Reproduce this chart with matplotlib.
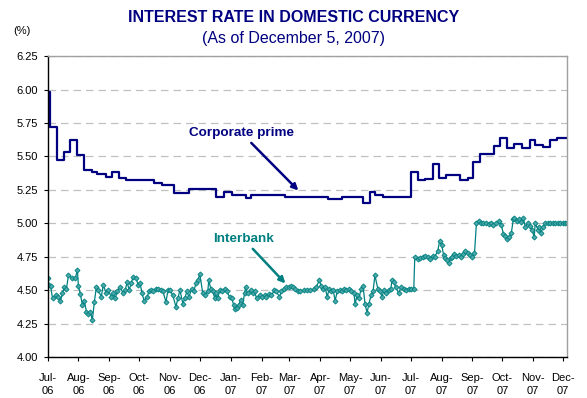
import numpy as np
import pandas as pd
import matplotlib
matplotlib.use("Agg")
import matplotlib.pyplot as plt
import matplotlib.dates as mdates
from matplotlib.ticker import FormatStrFormatter

plt.rcParams['font.family'] = ['Liberation Sans', 'DejaVu Sans']

start = pd.Timestamp("2006-07-01")
end = pd.Timestamp("2007-12-05")

# corporate prime: day (counted from 1 Jul 2006) on which the rate changes, new rate
prime_day = [0, 2, 10, 17, 23, 30, 37, 45, 50, 59, 65, 72, 79, 107, 115, 127,
             142, 169, 177, 185, 199, 204, 239, 282, 296, 317, 324, 329, 337,
             365, 372, 379, 387, 393, 400, 414, 422, 428, 435, 449, 455, 462,
             469, 477, 485, 490, 498, 505, 512, 522]
prime_rate = [5.98, 5.72, 5.47, 5.53, 5.62, 5.51, 5.40, 5.385, 5.37, 5.345,
              5.38, 5.335, 5.32, 5.30, 5.285, 5.23, 5.255, 5.20, 5.235, 5.21,
              5.19, 5.21, 5.195, 5.18, 5.20, 5.155, 5.235, 5.21, 5.20, 5.38,
              5.32, 5.33, 5.44, 5.34, 5.36, 5.32, 5.335, 5.46, 5.52, 5.58,
              5.64, 5.56, 5.59, 5.56, 5.62, 5.585, 5.57, 5.62, 5.635, 5.635]

# interbank call loan rate, days counted from 1 Jul 2006
ib_day = [0, 1, 3, 5, 8, 11, 13, 15, 17, 19, 21, 25, 28, 30, 31, 33, 35, 37,
          39, 41, 43, 45, 47, 49, 51, 54, 56, 59, 61, 64, 66, 68, 70, 73, 76,
          78, 80, 82, 84, 86, 89, 91, 93, 95, 97, 100, 102, 104, 106, 109,
          111, 114, 116, 119, 121, 123, 126, 129, 131, 133, 136, 138, 140,
          142, 145, 147, 149, 151, 153, 156, 158, 161, 162, 164, 166, 168,
          169, 171, 173, 175, 178, 180, 183, 185, 187, 188, 190, 192, 194,
          196, 198, 199, 201, 204, 206, 208, 210, 213, 215, 218, 220, 223,
          225, 228, 230, 233, 235, 238, 240, 243, 245, 247, 249, 252, 254,
          258, 261, 264, 268, 270, 273, 275, 277, 279, 281, 283, 285, 287,
          289, 291, 294, 296, 298, 300, 303, 305, 308, 309, 311, 313, 315,
          317, 319, 321, 323, 325, 327, 329, 332, 334, 336, 338, 340, 343,
          345, 346, 348, 350, 353, 355, 358, 360, 363, 365, 368, 369, 372,
          374, 377, 379, 382, 384, 387, 389, 392, 394, 396, 398, 399, 401,
          403, 405, 406, 408, 410, 413, 415, 417, 419, 422, 424, 427, 429,
          431, 434, 436, 438, 441, 444, 446, 448, 451, 454, 456, 458, 460,
          462, 464, 466, 468, 469, 472, 474, 476, 478, 480, 483, 485, 487,
          489, 490, 493, 494, 496, 498, 500, 503, 505, 508, 510, 513, 515,
          518, 520, 522]
ib_rate = [4.59, 4.54, 4.53, 4.44, 4.46, 4.45, 4.42, 4.475, 4.525, 4.51, 4.61,
           4.59, 4.59, 4.65, 4.53, 4.47, 4.39, 4.42, 4.34, 4.32, 4.34, 4.275,
           4.41, 4.52, 4.50, 4.45, 4.54, 4.475, 4.50, 4.45, 4.475, 4.44, 4.49,
           4.525, 4.475, 4.50, 4.56, 4.50, 4.55, 4.60, 4.59, 4.54, 4.55, 4.475,
           4.42, 4.45, 4.49, 4.50, 4.49, 4.51, 4.51, 4.50, 4.49, 4.41, 4.50,
           4.50, 4.46, 4.375, 4.44, 4.50, 4.40, 4.44, 4.49, 4.45, 4.51, 4.49,
           4.55, 4.575, 4.62, 4.475, 4.46, 4.49, 4.575, 4.51, 4.49, 4.44,
           4.475, 4.44, 4.50, 4.49, 4.51, 4.49, 4.45, 4.44, 4.39, 4.36, 4.37,
           4.39, 4.425, 4.39, 4.475, 4.525, 4.475, 4.50, 4.475, 4.49, 4.44,
           4.46, 4.45, 4.46, 4.45, 4.47, 4.46, 4.50, 4.49, 4.45, 4.49, 4.51,
           4.52, 4.525, 4.53, 4.52, 4.51, 4.49, 4.49, 4.50, 4.50, 4.50, 4.505,
           4.52, 4.575, 4.53, 4.505, 4.52, 4.45, 4.51, 4.49, 4.50, 4.42, 4.49,
           4.50, 4.49, 4.51, 4.50, 4.505, 4.49, 4.475, 4.395, 4.46, 4.44, 4.51,
           4.53, 4.40, 4.33, 4.40, 4.46, 4.49, 4.61, 4.505, 4.495, 4.45, 4.50,
           4.475, 4.50, 4.51, 4.575, 4.56, 4.52, 4.475, 4.525, 4.51, 4.50,
           4.51, 4.505, 4.51, 4.745, 4.73, 4.74, 4.75, 4.755, 4.745, 4.73,
           4.755, 4.75, 4.79, 4.87, 4.84, 4.76, 4.74, 4.725, 4.70, 4.74, 4.75,
           4.77, 4.755, 4.76, 4.75, 4.77, 4.79, 4.78, 4.76, 4.745, 4.775,
           5.005, 5.02, 5.005, 5.00, 5.005, 4.995, 5.00, 4.99, 5.00, 5.02,
           4.99, 4.92, 4.905, 4.88, 4.90, 4.925, 5.03, 5.04, 5.02, 5.03, 5.01,
           5.04, 4.975, 5.005, 4.98, 4.95, 4.895, 5.00, 4.95, 4.975, 4.93,
           4.975, 5.005, 5.00, 5.005, 5.00, 5.005, 5.00, 5.005, 5.00, 5.00,
           5.00]

prime_dates = start + pd.to_timedelta(prime_day, unit="D")
ib_dates = start + pd.to_timedelta(ib_day, unit="D")

navy = "#000080"
teal = "#008080"

fig = plt.figure(figsize=(5.87, 3.98), dpi=100)
ax = fig.add_axes([0.081, 0.103, 0.885, 0.756])

ax.grid(axis="y", color="#c0c0c0", linestyle=(0, (6, 4)), linewidth=0.9)
ax.set_axisbelow(True)

ax.plot(prime_dates, prime_rate, drawstyle="steps-post", color=navy, lw=1.6)
ax.plot(ib_dates, ib_rate, color=teal, lw=0.9, marker="D", markersize=2.6,
        markerfacecolor="#4aa8a8", markeredgecolor=teal, markeredgewidth=0.6)

ax.set_ylim(4.0, 6.25)
ax.set_yticks(np.arange(4.0, 6.26, 0.25))
ax.yaxis.set_major_formatter(FormatStrFormatter("%.2f"))
ax.set_xlim(start, end)
ax.xaxis.set_major_locator(mdates.MonthLocator())
ax.xaxis.set_major_formatter(mdates.DateFormatter("%b-\n%y"))

for lab in ax.get_xticklabels():
    lab.set_linespacing(1.4)
ax.tick_params(axis="both", labelsize=8, length=3, width=0.8, direction="out")
ax.tick_params(axis="x", pad=8.5)
ax.tick_params(axis="y", pad=4)

for side in ["left", "bottom"]:
    ax.spines[side].set_color("black")
    ax.spines[side].set_linewidth(1)
for side in ["top", "right"]:
    ax.spines[side].set_color("#a0a0a0")
    ax.spines[side].set_linewidth(1)

ax.annotate("Corporate prime",
            xy=(start + pd.Timedelta(days=252), 5.245),
            xytext=(start + pd.Timedelta(days=195), 5.674),
            ha="center", va="center", fontsize=9.7, fontweight="bold", color=navy,
            arrowprops=dict(arrowstyle="-|>", color=navy, lw=1.8, mutation_scale=9,
                            shrinkA=1, shrinkB=0))
ax.annotate("Interbank",
            xy=(start + pd.Timedelta(days=239), 4.55),
            xytext=(start + pd.Timedelta(days=197), 4.882),
            ha="center", va="center", fontsize=9.7, fontweight="bold", color=teal,
            arrowprops=dict(arrowstyle="-|>", color=teal, lw=1.8, mutation_scale=9,
                            shrinkA=1, shrinkB=0))

fig.text(0.5, 1 - 17 / 398, "INTEREST RATE IN DOMESTIC CURRENCY", ha="center",
         va="center", fontsize=11.5, fontweight="bold", color=navy)
fig.text(0.5, 1 - 38 / 398, "(As of December 5, 2007)", ha="center",
         va="center", fontsize=11.5, color=navy)
fig.text(22 / 587, 1 - 31 / 398, "(%)", ha="center", va="center", fontsize=8)

fig.savefig("out.png", dpi=100)
